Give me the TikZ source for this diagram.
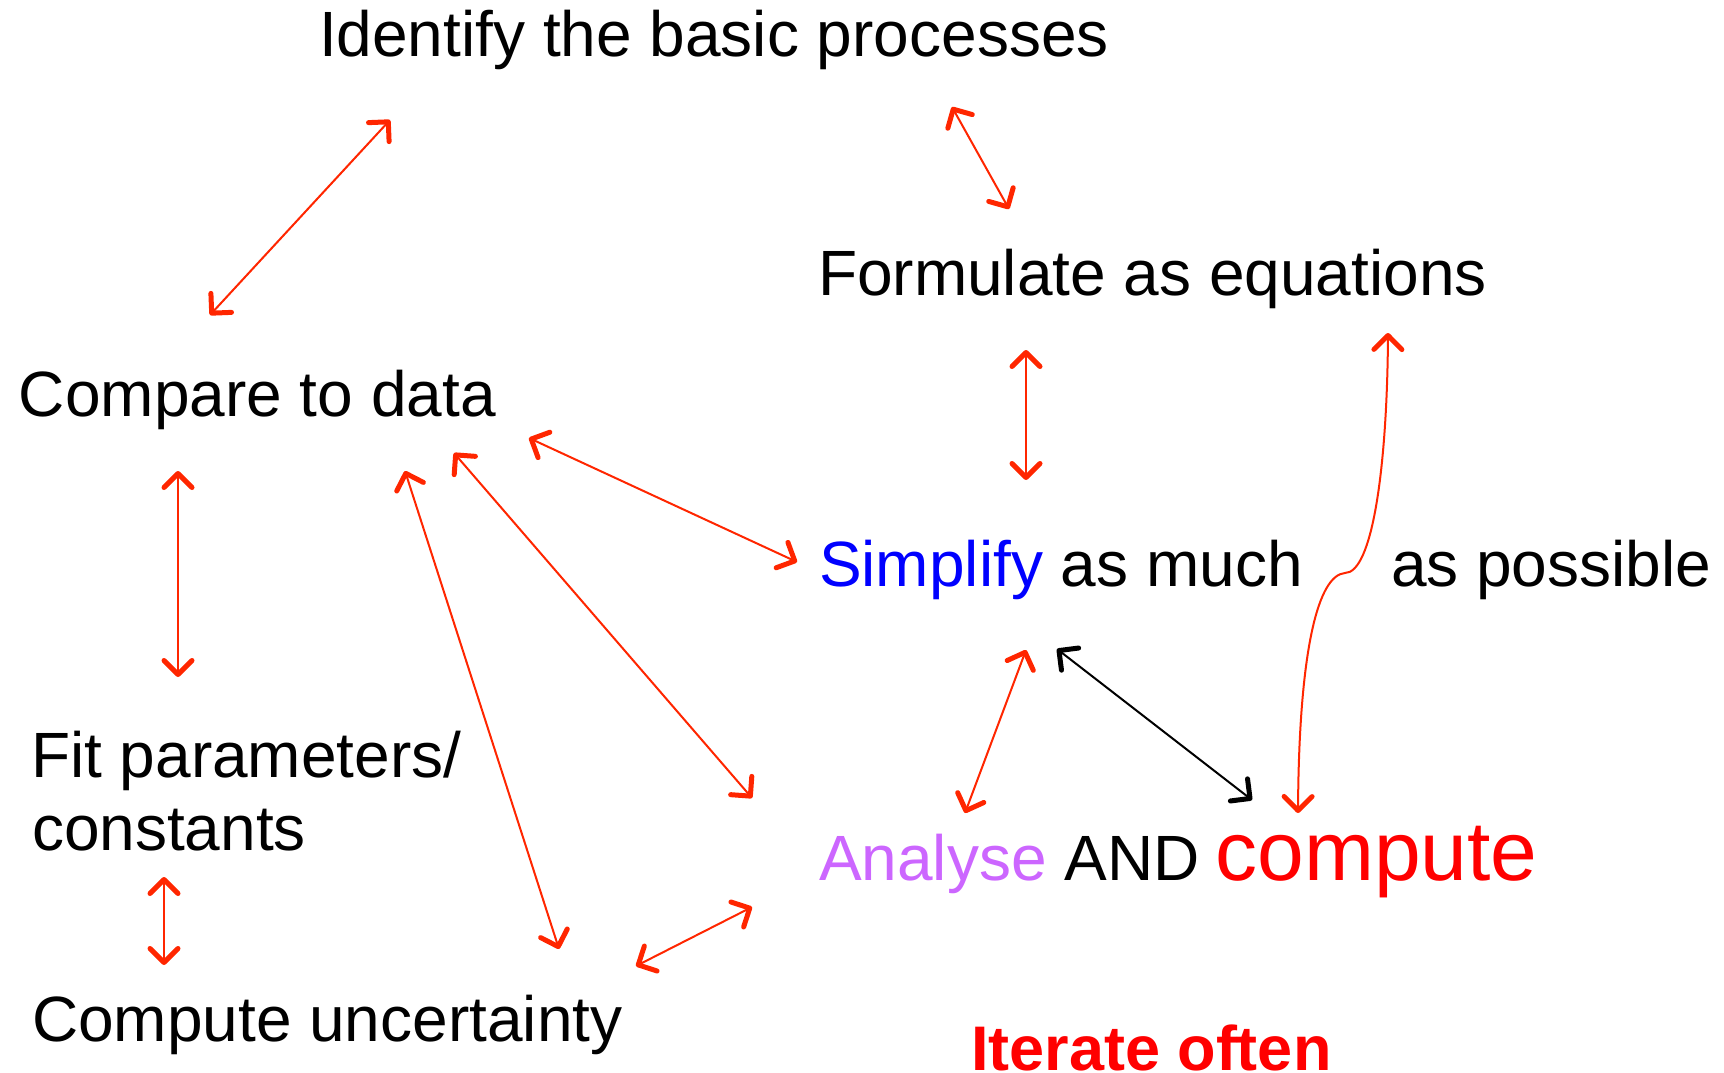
\documentclass[tikz,border=0pt]{standalone}
\usepackage{fontspec}
\setmainfont{Liberation Sans}
\usetikzlibrary{arrows.meta}
\definecolor{arrred}{RGB}{255,38,0}
\definecolor{txtred}{RGB}{255,0,0}
\definecolor{txtblue}{RGB}{0,0,255}
\definecolor{txtviolet}{RGB}{204,102,255}
\tikzset{
  lbl/.style={anchor=base west, inner sep=0pt, outer sep=0pt, font=\fontsize{64}{72}\selectfont},
  link/.style={draw=arrred, line width=2pt,
    {Straight Barb[length=14pt,width=28pt,line width=5pt,round]}-{Straight Barb[length=14pt,width=28pt,line width=5pt,round]}},
  blink/.style={link, draw=black}
}
\begin{document}
\begin{tikzpicture}[x=1pt,y=-1pt]
\useasboundingbox (0,0) rectangle (1724,1073);
% texts
\node[lbl] (ident) at (319,57) {Identify the basic processes};
\node[lbl] (form) at (818,295) {Formulate as equations};
\node[lbl] (comp) at (19,416) {Compare to data};
\node[lbl] (simp) at (819,586) {\textcolor{txtblue}{Simplify} as much};
\node[lbl] (poss) at (1391,586) {as possible};
\node[lbl] (fit) at (31,777) {Fit parameters/};
\node[lbl] (const) at (32,850) {constants};
\node[lbl] (anal) at (819,880) {\textcolor{txtviolet}{Analyse} AND\hspace{-2pt} {\fontsize{84}{90}\selectfont\textcolor{txtred}{compute}}};
\node[lbl] (cunc) at (32,1041) {Compute uncertainty};
\node[lbl, font=\fontsize{63}{70}\selectfont\bfseries, text=txtred] (iter) at (971,1070) {Iterate often};
% arrow end points
\coordinate (a1) at (390,120);  \coordinate (b1) at (210,315);
\coordinate (a2) at (952,107);  \coordinate (b2) at (1009,209);
\coordinate (a3) at (1026,350); \coordinate (b3) at (1026,480);
\coordinate (a4) at (1388,333); \coordinate (k4) at (1345,573); \coordinate (b4) at (1298,813);
\coordinate (a5) at (529,438);  \coordinate (b5) at (797,562);
\coordinate (a6) at (454,453);  \coordinate (b6) at (752,798);
\coordinate (a7) at (405,471);  \coordinate (b7) at (559,949);
\coordinate (a8) at (178,471);  \coordinate (b8) at (178,677);
\coordinate (a9) at (164,877);  \coordinate (b9) at (164,965);
\coordinate (a10) at (752,907); \coordinate (b10) at (636,966);
\coordinate (a11) at (1026,650);\coordinate (b11) at (965,813);
\coordinate (a12) at (1057,649);\coordinate (b12) at (1252,800);
% connectors
\draw[link] (a1) -- (b1);
\draw[link] (a2) -- (b2);
\draw[link] (a3) -- (b3);
\draw[link] (a4) .. controls (1387,470) and (1372,573) .. (k4)
               .. controls (1318,575) and (1299,650) .. (b4);
\draw[link] (a5) -- (b5);
\draw[link] (a6) -- (b6);
\draw[link] (a7) -- (b7);
\draw[link] (a8) -- (b8);
\draw[link] (a9) -- (b9);
\draw[link] (a10) -- (b10);
\draw[link] (a11) -- (b11);
\draw[blink] (a12) -- (b12);
\end{tikzpicture}
\end{document}
